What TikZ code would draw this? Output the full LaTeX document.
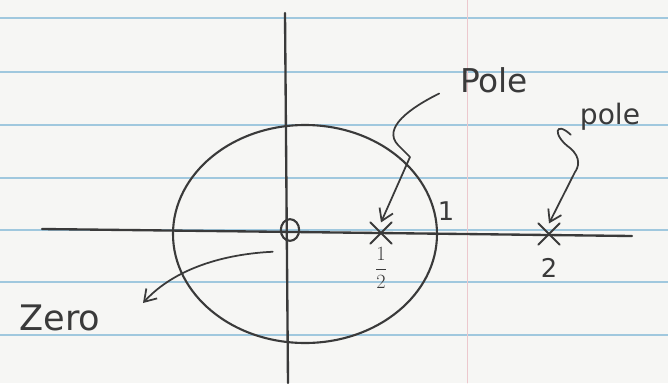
\documentclass[tikz,border=0pt]{standalone}
\usepackage{fontspec}
\setsansfont{DejaVu Sans}
\usetikzlibrary{arrows.meta,shapes.misc,shapes.geometric}

\begin{document}
\begin{tikzpicture}[x=0.03cm,y=-0.03cm,>={Straight Barb[length=3.4mm,width=4.4mm]},line cap=round,line join=round]
\definecolor{paper}{RGB}{246,246,244}
\definecolor{rulecol}{RGB}{160,200,222}
\definecolor{margincol}{RGB}{236,200,205}
\definecolor{pencil}{RGB}{58,58,58}
\useasboundingbox (0,0) rectangle (668,383);
\fill[paper] (0,0) rectangle (668,383);
% ruled paper
\foreach \y in {18,72,125,178,230,282,335}
  \draw[rulecol,line width=0.9pt] (0,\y) -- (668,\y);
\draw[margincol,line width=0.8pt] (467,0) -- (467,383);
% axes and unit circle
\draw[pencil,line width=2pt] (42,229) -- (632,236);
\draw[pencil,line width=2pt] (285,13) -- (288,383);
\draw[pencil,line width=1.8pt] (305,234) ellipse [x radius=132,y radius=109];
% zero and poles
\node[draw=pencil,line width=1.8pt,ellipse,minimum width=0.55cm,minimum height=0.65cm,inner sep=0pt] (z) at (290,230) {};
\node[draw=pencil,line width=1.6pt,cross out,minimum size=0.58cm,inner sep=0pt] (p1) at (381,233) {};
\node[draw=pencil,line width=1.6pt,cross out,minimum size=0.58cm,inner sep=0pt] (p2) at (549,234) {};
\node[text=pencil,font=\fontsize{16}{18}\selectfont] (half) at (381,268) {$\displaystyle\frac{1}{2}$};
\node[text=pencil,font=\sffamily\fontsize{22}{24}\selectfont] (one) at (446,211) {1};
\node[text=pencil,font=\sffamily\fontsize{22}{24}\selectfont] (two) at (549,268) {2};
% labels
\node[text=pencil,font=\sffamily\fontsize{28}{30}\selectfont] (pole1) at (494,80) {Pole};
\node[text=pencil,font=\sffamily\fontsize{24}{26}\selectfont] (pole2) at (610,117) {pole};
\node[text=pencil,font=\sffamily\fontsize{30}{32}\selectfont] (zerotxt) at (60,318) {Zero};
% arrows
\draw[->,pencil,line width=1.5pt] ([xshift=-0.5cm,yshift=0.1cm]pole1.south west) .. controls (410,108) and (382,128) .. (398,145) -- (410,157) -- (p1.north);
\draw[->,pencil,line width=1.5pt] ([xshift=-0.15cm]pole2.south west) .. controls (555,120) and (552,135) .. (570,148) .. controls (582,158) and (578,168) .. (575,172) -- (p2.north);
\draw[->,pencil,line width=1.5pt] ([xshift=-0.3cm,yshift=-0.4cm]z.south west) .. controls (225,254) and (175,268) .. (143,303);
\end{tikzpicture}
\end{document}
